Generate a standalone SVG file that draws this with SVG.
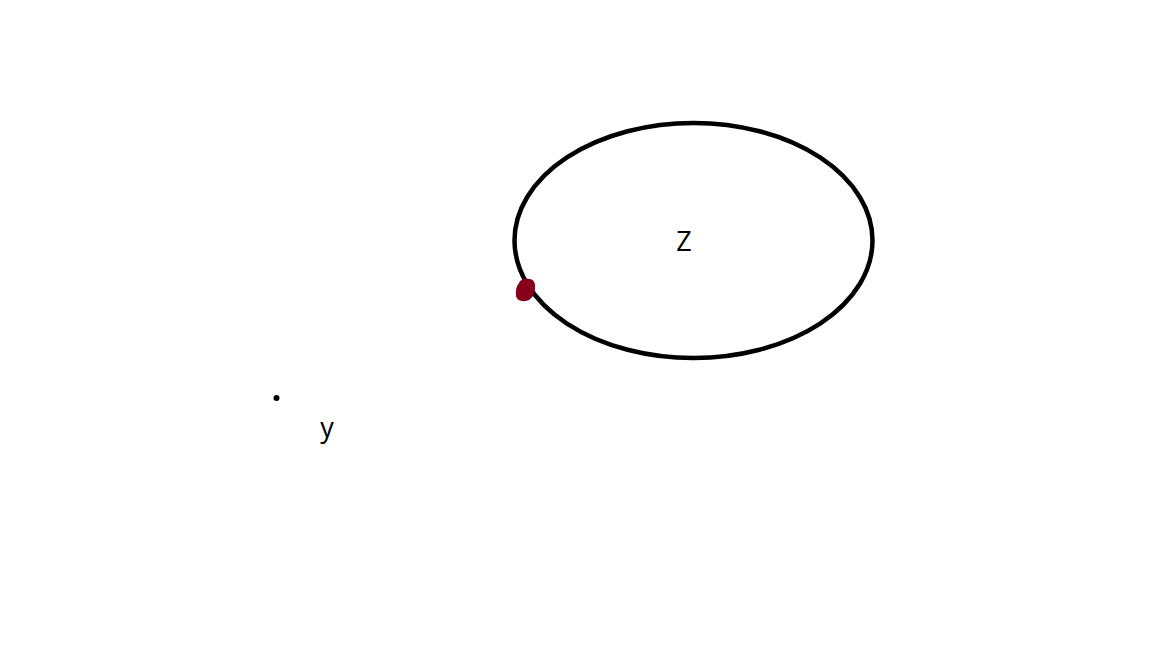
<svg xmlns="http://www.w3.org/2000/svg" width="1152" height="648" viewBox="0 0 1152 648">
<style>
.lbl{font-family:"Open Sans","Liberation Sans",sans-serif;font-size:27px;fill:#000}
</style>
<rect width="1152" height="648" fill="#fff"/>
<g id="node-z">
<ellipse cx="693.5" cy="240.5" rx="179" ry="117.5" fill="none" stroke="#000" stroke-width="4.5"/>
<text class="lbl" x="684" y="251" text-anchor="middle">Z</text>
</g>
<g id="marker-red">
<path d="M519,283 Q521,278 530,279 Q536,280 535,289 Q534,299 526,301 Q517,302 516,296 Q515,288 519,283 Z" fill="#86001a"/>
</g>
<g id="node-y">
<circle cx="276.5" cy="398" r="3" fill="#000"/>
<text class="lbl" x="327" y="437" text-anchor="middle">y</text>
</g>
<g id="connectors"></g>
</svg>
